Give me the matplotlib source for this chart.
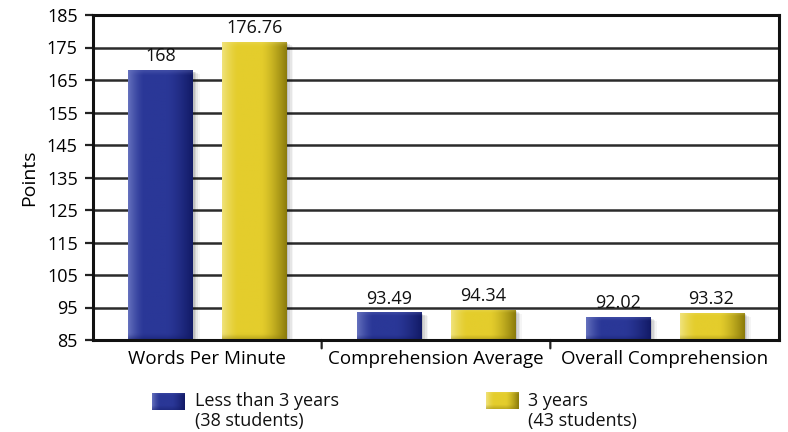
import numpy as np
import matplotlib
matplotlib.use("Agg")
import matplotlib.pyplot as plt
import matplotlib.transforms as mtransforms
from matplotlib.colors import to_rgb

categories = ["Words Per Minute", "Comprehension Average", "Overall Comprehension"]
less_than_3 = [168, 93.49, 92.02]
three_years = [176.76, 94.34, 93.32]
value_labels_less = ["168", "93.49", "92.02"]
value_labels_three = ["176.76", "94.34", "93.32"]
series_names = ["Less than 3 years\n(38 students)", "3 years\n(43 students)"]
yticks = list(range(85, 186, 10))

plt.rcParams["font.family"] = ["Open Sans", "DejaVu Sans"]
FS = 13

fig = plt.figure(figsize=(7.88, 4.32), dpi=100)
ax = fig.add_axes([93 / 788, 1 - 340 / 432, 686 / 788, 325 / 432])

x = np.arange(len(categories))
width = 0.28
offset = 0.205
ymin, ymax = 85, 185

BLUE = ("#2a3797", "#121a66", "#6470bd")
YELLOW = ("#e4cd2c", "#8c7c0c", "#f0e27a")


def shaded_image(colors, edge_frac=0.08, nx=64, ny=128):
    base, dark, light = colors
    b = np.array(to_rgb(base))
    d = np.array(to_rgb(dark))
    l = np.array(to_rgb(light))
    u = np.linspace(0, 1, nx)
    # horizontal profile: light left edge, body, darker right edge
    w_light = np.clip(1 - u / 0.25, 0, 1) ** 1.5
    w_dark = np.clip((u - 0.6) / 0.4, 0, 1) ** 1.4
    row = b[None, :] * (1 - w_light - w_dark)[:, None] + l[None, :] * w_light[:, None] + d[None, :] * w_dark[:, None]
    v = np.linspace(0, 1, ny)  # 0 = bottom, 1 = top
    bot = np.clip(1 - v / edge_frac, 0, 1) * 0.45
    top = np.clip((v - (1 - edge_frac * 0.7)) / (edge_frac * 0.7), 0, 1) * 0.35
    img = row[None, :, :] * (1 - bot - top)[:, None, None] + d[None, None, :] * bot[:, None, None] + l[None, None, :] * top[:, None, None]
    return np.clip(img, 0, 1)


def draw_series(xpos, values, colors, labels):
    bars = ax.bar(xpos, np.array(values) - ymin, width, bottom=ymin, color=colors[0],
                  edgecolor="none", zorder=3)
    for bar, lab in zip(bars, labels):
        bx, by = bar.get_x(), bar.get_y()
        bw, bh = bar.get_width(), bar.get_height()
        # soft drop shadow
        for i, a in enumerate([0.10, 0.08, 0.06, 0.04]):
            tr = mtransforms.offset_copy(ax.transData, fig=fig, x=1.5 + i * 1.2, y=-1.0 - i * 0.6,
                                         units="points")
            ax.add_patch(plt.Rectangle((bx, by), bw, bh, transform=tr, color="black",
                                       alpha=a, lw=0, zorder=2))
        img = shaded_image(colors, edge_frac=min(0.3, 1.6 / bh))
        im = ax.imshow(img, extent=[bx, bx + bw, by, by + bh], origin="lower",
                       aspect="auto", zorder=4, interpolation="bilinear")
        im.set_clip_path(bar)
        ax.annotate(lab, (bx + bw / 2, by + bh), xytext=(0, 3.5), textcoords="offset points",
                    ha="center", va="bottom", fontsize=FS, color="#111111", zorder=6)
    return bars


draw_series(x - offset, less_than_3, BLUE, value_labels_less)
draw_series(x + offset, three_years, YELLOW, value_labels_three)

ax.set_xlim(-0.5, len(categories) - 0.5)
ax.set_ylim(ymin, ymax)
ax.set_yticks(yticks)
ax.set_yticklabels([str(t) for t in yticks], fontsize=FS)
for t in yticks[1:-1]:
    ax.axhline(t, color="#2b2b2b", lw=1.8, zorder=1)

ax.set_xticks(x)
ax.set_xticklabels(categories, fontsize=FS + 0.5)
ax.tick_params(axis="x", length=0, pad=7)
ax.tick_params(axis="y", length=6, width=1.6, color="#222222", pad=5)
for sep in x[:-1] + 0.5:
    ax.annotate("", xy=(sep, ymin), xycoords="data", xytext=(0, -6), textcoords="offset points",
                arrowprops=dict(arrowstyle="-", color="#222222", lw=1.6,
                                shrinkA=0, shrinkB=0), annotation_clip=False)

for s in ax.spines.values():
    s.set_color("#111111")
    s.set_linewidth(2.2)
    s.set_zorder(5)

ax.set_ylabel("Points", fontsize=FS + 1, labelpad=6)


# legend drawn in figure coordinates
def legend_entry(x0, y0, colors, text, text_x):
    lax = fig.add_axes([x0 / 788, 1 - (y0 + 17) / 432, 33 / 788, 17 / 432])
    lax.imshow(shaded_image(colors, edge_frac=0.25), aspect="auto", origin="lower",
               interpolation="bilinear")
    lax.axis("off")
    for k, line in enumerate(text.split("\n")):
        fig.text(text_x / 788, 1 - (401 + 20 * k) / 432, line, fontsize=FS, va="center",
                 ha="left", color="#111111")


legend_entry(152, 393, BLUE, series_names[0], 195)
legend_entry(486, 392, YELLOW, series_names[1], 528)

fig.savefig("out.png", dpi=100)
